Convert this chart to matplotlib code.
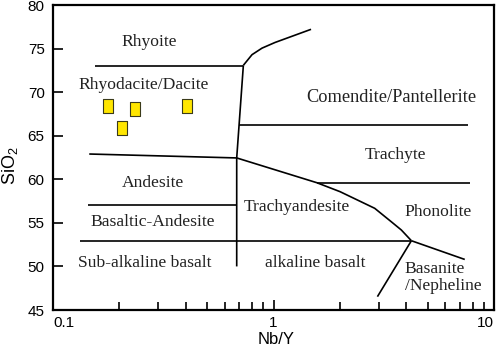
import matplotlib
matplotlib.use("Agg")
import matplotlib.pyplot as plt
import numpy as np
from matplotlib.ticker import LogLocator, NullFormatter, FixedLocator

plt.rcParams['font.family'] = ['Liberation Sans', 'DejaVu Sans']
plt.rcParams['mathtext.fontset'] = 'custom'
plt.rcParams['mathtext.rm'] = 'Liberation Sans'
plt.rcParams['mathtext.it'] = 'Liberation Sans'

# ---- data ----
sample_nb_y = [0.178, 0.235, 0.404, 0.205]
sample_sio2 = [68.4, 68.1, 68.4, 65.9]

rhyolite_base_x = [0.155, 0.730]
rhyolite_base_y = [73.0, 73.0]
upper_curve_x = [0.730, 0.799, 0.887, 1.016, 1.48]
upper_curve_y = [73.08, 74.30, 75.05, 75.70, 77.21]
divide_x = [0.730, 0.681, 0.681]
divide_y = [73.08, 62.45, 50.0]
comendite_base_x = [0.698, 7.62]
comendite_base_y = [66.2, 66.2]
andesite_top_x = [0.146, 0.681]
andesite_top_y = [62.9, 62.45]
lower_curve_x = [0.681, 1.571, 2.003, 2.877, 3.42, 3.80, 4.22]
lower_curve_y = [62.45, 59.61, 58.58, 56.67, 55.13, 54.18, 52.95]
trachyte_base_x = [1.571, 7.76]
trachyte_base_y = [59.61, 59.61]
bas_andesite_top_x = [0.1445, 0.681]
bas_andesite_top_y = [57.05, 57.05]
basalt_top_x = [0.1325, 4.22]
basalt_top_y = [52.95, 52.95]
phonolite_base_x = [4.22, 7.37]
phonolite_base_y = [52.95, 50.8]
basanite_left_x = [4.22, 2.96]
basanite_left_y = [52.95, 46.53]

boundaries = [
    (rhyolite_base_x, rhyolite_base_y),
    (upper_curve_x, upper_curve_y),
    (divide_x, divide_y),
    (comendite_base_x, comendite_base_y),
    (andesite_top_x, andesite_top_y),
    (lower_curve_x, lower_curve_y),
    (trachyte_base_x, trachyte_base_y),
    (bas_andesite_top_x, bas_andesite_top_y),
    (basalt_top_x, basalt_top_y),
    (phonolite_base_x, phonolite_base_y),
    (basanite_left_x, basanite_left_y),
]

field_labels = ["Rhyoite", "Rhyodacite/Dacite", "Comendite/Pantellerite", "Trachyte",
                "Andesite", "Basaltic-Andesite", "Sub-alkaline basalt", "Trachyandesite",
                "Phonolite", "alkaline basalt"]
field_x = [0.2734, 0.2567, 3.42, 3.568, 0.2833, 0.2833, 0.2613, 1.278, 5.57, 1.554]
field_y = [75.72, 70.82, 69.41, 62.79, 59.54, 55.06, 50.36, 56.79, 56.21, 50.43]
basanite_label = "Basanite\n/Nepheline"
basanite_pos = (3.93, 48.76)

x_ticks = [0.1, 1, 10]
x_tick_labels = ["0.1", "1", "10"]
y_ticks = [45, 50, 55, 60, 65, 70, 75, 80]

# ---- figure ----
fig = plt.figure(figsize=(4.98, 3.51), dpi=100)
ax = fig.add_axes([53/498, 1 - 310/351, (494-53)/498, (310-5)/351])
ax.set_xscale('log')
ax.set_xlim(0.1, 10)
ax.set_ylim(45, 80)

for bx, by in boundaries:
    ax.plot(bx, by, color='black', lw=1.2, solid_capstyle='butt', solid_joinstyle='round')

rect = [(-0.385, -0.5), (0.385, -0.5), (0.385, 0.5), (-0.385, 0.5), (-0.385, -0.5)]
ax.plot(sample_nb_y, sample_sio2, linestyle='none', marker=rect, markersize=9.4,
        markerfacecolor='#FFE600', markeredgecolor='#3a3a1a', markeredgewidth=0.8)

serif = ['Liberation Serif', 'DejaVu Serif']
for t, x, y in zip(field_labels, field_x, field_y):
    fs = 13.2 if t.startswith("Comendite") else 12.6
    ax.text(x, y, t, family=serif, fontsize=fs, ha='center', va='center', color='#222222')
ax.text(basanite_pos[0], basanite_pos[1], basanite_label, family=serif, fontsize=12.6,
        ha='left', va='center', linespacing=1.1, color='#222222')

ax.xaxis.set_major_locator(FixedLocator(x_ticks))
ax.set_xticklabels(x_tick_labels)
ax.xaxis.set_minor_locator(LogLocator(base=10, subs=np.arange(2, 10)))
ax.xaxis.set_minor_formatter(NullFormatter())
ax.set_yticks(y_ticks)
ax.tick_params(axis='both', which='major', direction='in', length=7, width=1.2,
               labelsize=11)
ax.tick_params(axis='y', which='major', pad=6)
ax.tick_params(axis='x', which='major', pad=4)
ax.tick_params(axis='x', which='minor', direction='in', length=5.5, width=1.2)
ax.tick_params(axis='y', which='minor', left=False)
xl = ax.get_xticklabels()
xl[0].set_ha('left')
xl[-1].set_ha('right')

for s in ax.spines.values():
    s.set_linewidth(1.6)

ax.set_xlabel('Nb/Y', fontsize=12)
ax.xaxis.set_label_coords((276 - 53) / 441, -(340 - 310) / 305)
ax.xaxis.label.set_va('center')
ax.set_ylabel('SiO$_2$', fontsize=13)
ax.yaxis.set_label_coords(-(53 - 20) / 441, (310 - 166) / 305)

fig.savefig('out.png', dpi=100)
